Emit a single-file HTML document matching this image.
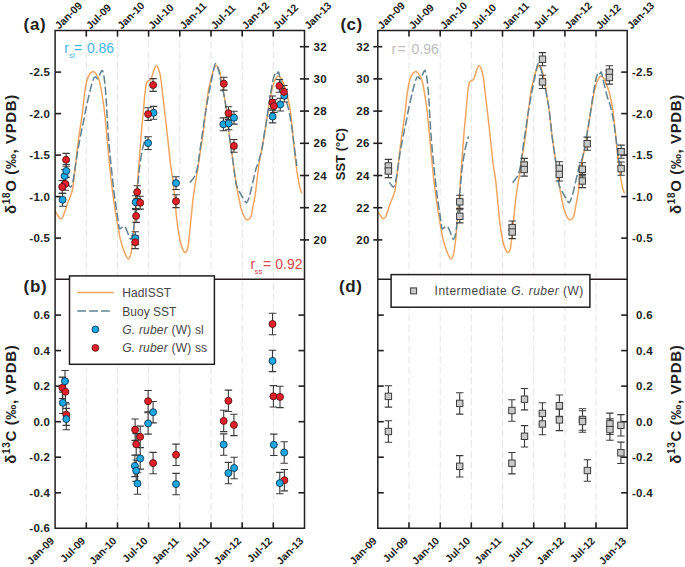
<!DOCTYPE html>
<html><head><meta charset="utf-8"><title>chart</title>
<style>html,body{margin:0;padding:0;background:#fff;width:685px;height:567px;overflow:hidden}svg{display:block}</style>
</head><body>
<svg width="685" height="567" viewBox="0 0 685 567" font-family='"Liberation Sans", sans-serif'>
<rect width="685" height="567" fill="#fff"/>
<line x1="86.3" y1="30.6" x2="86.3" y2="528.3" stroke="#e4e4e4" stroke-width="1" stroke-dasharray="7.5,3"/>
<line x1="117.5" y1="30.6" x2="117.5" y2="528.3" stroke="#e4e4e4" stroke-width="1" stroke-dasharray="7.5,3"/>
<line x1="148.6" y1="30.6" x2="148.6" y2="528.3" stroke="#e4e4e4" stroke-width="1" stroke-dasharray="7.5,3"/>
<line x1="179.8" y1="30.6" x2="179.8" y2="528.3" stroke="#e4e4e4" stroke-width="1" stroke-dasharray="7.5,3"/>
<line x1="211.0" y1="30.6" x2="211.0" y2="528.3" stroke="#e4e4e4" stroke-width="1" stroke-dasharray="7.5,3"/>
<line x1="242.2" y1="30.6" x2="242.2" y2="528.3" stroke="#e4e4e4" stroke-width="1" stroke-dasharray="7.5,3"/>
<line x1="273.3" y1="30.6" x2="273.3" y2="528.3" stroke="#e4e4e4" stroke-width="1" stroke-dasharray="7.5,3"/>
<line x1="409.0" y1="30.6" x2="409.0" y2="528.3" stroke="#e4e4e4" stroke-width="1" stroke-dasharray="7.5,3"/>
<line x1="440.2" y1="30.6" x2="440.2" y2="528.3" stroke="#e4e4e4" stroke-width="1" stroke-dasharray="7.5,3"/>
<line x1="471.3" y1="30.6" x2="471.3" y2="528.3" stroke="#e4e4e4" stroke-width="1" stroke-dasharray="7.5,3"/>
<line x1="502.5" y1="30.6" x2="502.5" y2="528.3" stroke="#e4e4e4" stroke-width="1" stroke-dasharray="7.5,3"/>
<line x1="533.7" y1="30.6" x2="533.7" y2="528.3" stroke="#e4e4e4" stroke-width="1" stroke-dasharray="7.5,3"/>
<line x1="564.9" y1="30.6" x2="564.9" y2="528.3" stroke="#e4e4e4" stroke-width="1" stroke-dasharray="7.5,3"/>
<line x1="596.0" y1="30.6" x2="596.0" y2="528.3" stroke="#e4e4e4" stroke-width="1" stroke-dasharray="7.5,3"/>
<path d="M55.3,211.5 C55.6,212.1 56.6,213.8 57.3,214.8 C58.0,215.9 58.7,217.1 59.3,217.8 C59.9,218.5 60.3,218.9 60.9,218.8 C61.5,218.7 62.2,218.1 62.8,217.0 C63.4,215.9 63.7,214.7 64.5,212.5 C65.3,210.3 66.5,206.3 67.5,203.6 C68.5,200.9 69.6,198.7 70.4,196.3 C71.2,194.0 71.9,192.6 72.5,189.5 C73.1,186.4 73.5,182.7 74.1,177.5 C74.7,172.3 75.6,164.7 76.3,158.3 C77.0,151.9 77.8,144.9 78.5,139.3 C79.2,133.7 80.0,129.8 80.7,124.6 C81.4,119.4 82.3,113.3 82.9,108.0 C83.6,102.7 83.9,97.6 84.6,93.0 C85.3,88.4 86.0,83.7 86.9,80.5 C87.8,77.3 88.8,75.5 89.8,74.0 C90.8,72.5 92.0,71.6 92.9,71.4 C93.8,71.2 94.4,72.2 95.1,72.8 C95.8,73.4 96.3,74.3 96.9,75.3 C97.5,76.2 98.0,77.0 98.6,78.5 C99.2,80.0 99.7,81.6 100.3,84.5 C100.9,87.4 101.6,91.8 102.3,96.0 C103.0,100.2 103.6,104.3 104.3,110.0 C105.0,115.7 105.6,122.7 106.3,130.0 C107.0,137.3 107.8,146.2 108.5,153.9 C109.2,161.6 110.0,169.3 110.7,176.0 C111.4,182.7 112.2,188.6 112.9,194.2 C113.6,199.8 114.3,204.2 115.1,209.3 C115.9,214.4 116.8,219.6 117.6,224.5 C118.5,229.4 119.2,234.5 120.2,238.6 C121.1,242.7 122.4,246.2 123.3,249.0 C124.3,251.8 125.1,253.8 125.9,255.5 C126.7,257.2 127.6,258.9 128.3,259.0 C129.0,259.1 129.7,257.8 130.3,256.0 C130.9,254.2 131.4,251.0 131.9,248.0 C132.4,245.0 132.7,241.6 133.1,237.8 C133.5,234.0 133.8,229.6 134.2,225.2 C134.6,220.8 135.0,216.2 135.4,211.5 C135.8,206.8 136.2,202.2 136.6,197.0 C137.0,191.8 137.4,186.0 137.8,180.0 C138.2,174.0 138.6,169.2 139.2,161.2 C139.8,153.2 140.7,140.2 141.4,132.0 C142.1,123.8 142.7,118.7 143.3,112.0 C143.9,105.3 144.6,96.8 145.1,92.0 C145.7,87.2 146.1,84.8 146.6,83.0 C147.1,81.2 147.7,81.5 148.3,81.0 C148.9,80.5 149.5,80.6 150.1,80.0 C150.7,79.4 151.1,79.2 151.7,77.5 C152.3,75.8 153.1,72.0 153.9,70.1 C154.7,68.1 155.6,65.8 156.4,65.8 C157.2,65.8 158.1,67.7 158.8,69.8 C159.5,71.9 160.2,74.6 160.8,78.5 C161.4,82.4 161.9,88.1 162.5,93.0 C163.1,97.9 163.7,102.8 164.3,108.0 C164.9,113.2 165.5,118.8 166.1,124.0 C166.7,129.2 167.0,132.4 167.8,139.3 C168.6,146.2 169.8,158.8 170.7,165.6 C171.5,172.4 172.2,173.9 172.9,180.0 C173.6,186.1 174.4,194.7 175.1,202.0 C175.8,209.3 176.4,217.3 177.3,223.9 C178.2,230.5 179.3,237.1 180.3,241.5 C181.3,245.9 182.3,248.5 183.2,250.3 C184.0,252.1 184.7,252.8 185.4,252.5 C186.1,252.2 187.0,251.1 187.6,248.8 C188.2,246.5 188.5,242.8 189.0,238.6 C189.5,234.4 189.9,230.0 190.5,223.9 C191.1,217.8 192.1,207.7 192.7,202.0 C193.3,196.3 193.6,194.8 194.3,190.0 C195.0,185.2 196.1,179.0 197.1,173.0 C198.0,167.0 199.0,160.7 200.0,153.9 C201.0,147.1 202.3,139.3 203.3,132.0 C204.3,124.7 204.9,117.0 205.8,110.0 C206.7,103.0 207.7,94.8 208.5,90.0 C209.3,85.2 209.9,84.0 210.6,81.0 C211.3,78.0 212.1,74.6 212.9,72.0 C213.8,69.4 214.8,66.3 215.7,65.6 C216.6,64.8 217.4,66.3 218.1,67.5 C218.8,68.7 219.3,70.4 219.9,72.5 C220.5,74.6 220.9,76.5 221.6,80.0 C222.2,83.5 223.0,88.8 223.8,93.6 C224.6,98.4 225.3,101.8 226.3,109.0 C227.3,116.2 228.5,129.0 229.5,137.0 C230.5,145.0 231.4,150.2 232.4,157.0 C233.4,163.8 234.5,172.5 235.3,178.0 C236.1,183.5 236.7,186.7 237.3,190.0 C237.9,193.3 238.2,194.8 238.9,198.0 C239.6,201.2 240.3,206.0 241.3,209.3 C242.3,212.7 243.9,216.3 245.0,218.1 C246.1,219.8 246.9,220.1 247.9,219.8 C248.9,219.6 250.1,218.8 250.9,216.6 C251.8,214.4 252.3,210.1 253.0,206.4 C253.7,202.7 254.4,199.8 255.2,194.6 C256.0,189.4 256.8,180.9 257.6,175.0 C258.4,169.1 259.1,163.2 259.8,159.0 C260.5,154.8 261.0,154.0 261.8,149.5 C262.6,145.0 263.8,138.2 264.8,132.0 C265.8,125.8 266.9,117.9 267.9,112.0 C268.9,106.1 269.7,101.2 270.6,96.5 C271.5,91.8 272.5,87.0 273.5,83.8 C274.5,80.6 275.9,78.7 276.7,77.4 C277.5,76.2 277.5,76.3 278.1,76.3 C278.7,76.3 279.6,76.9 280.3,77.6 C281.0,78.3 281.4,78.4 282.3,80.6 C283.2,82.8 284.9,87.0 286.0,90.6 C287.1,94.2 288.1,98.2 288.9,102.3 C289.7,106.4 290.2,110.0 290.8,115.0 C291.4,120.0 291.9,125.5 292.6,132.0 C293.3,138.5 294.1,147.2 294.8,153.9 C295.5,160.6 296.2,166.6 297.0,172.0 C297.8,177.4 298.8,182.9 299.6,186.5 C300.4,190.1 301.4,192.3 301.8,193.5" fill="none" stroke="#f3a55f" stroke-width="1.5" stroke-linejoin="round"/>
<path d="M66.6,182.4 C67.0,182.9 68.1,184.4 68.8,185.2 C69.5,186.0 70.2,187.5 70.9,187.0 C71.6,186.5 72.2,184.5 72.8,182.0 C73.4,179.5 74.0,175.1 74.5,172.0 C75.0,168.9 75.3,167.0 75.8,163.5 C76.3,160.0 76.8,156.2 77.7,151.0 C78.6,145.8 80.2,137.5 81.3,132.0 C82.4,126.5 83.4,122.2 84.2,118.0 C85.0,113.8 85.4,111.1 86.3,107.0 C87.2,102.9 88.5,97.4 89.4,93.6 C90.3,89.8 91.1,86.6 91.8,84.0 C92.6,81.4 93.3,79.2 93.9,78.0 C94.5,76.8 95.0,76.9 95.6,77.0 C96.2,77.1 97.0,79.2 97.7,78.8 C98.4,78.4 99.2,75.9 99.9,74.5 C100.6,73.1 101.5,70.1 102.1,70.3 C102.8,70.5 103.3,72.9 103.8,75.5 C104.3,78.1 104.7,82.2 105.1,86.0 C105.5,89.8 105.8,93.7 106.1,98.0 C106.4,102.3 106.6,106.3 106.9,112.0 C107.2,117.7 107.6,125.0 108.1,132.0 C108.6,139.0 109.2,146.7 109.9,153.9 C110.6,161.1 111.4,168.2 112.1,175.0 C112.8,181.8 113.6,189.3 114.3,194.6 C115.0,199.9 115.6,203.2 116.1,207.0 C116.7,210.8 117.1,213.7 117.6,217.2 C118.1,220.7 118.7,226.4 119.3,228.2 C119.9,230.0 120.6,228.1 121.3,227.8 C122.0,227.5 122.6,226.4 123.3,226.4 C124.0,226.4 124.8,226.7 125.6,227.8 C126.4,228.9 127.1,231.3 127.9,233.2 C128.7,235.1 129.5,238.3 130.2,239.0 C130.9,239.7 131.4,238.5 131.9,237.5 C132.4,236.5 132.7,235.4 133.1,233.2 C133.5,230.9 133.7,228.7 134.2,224.0 C134.7,219.3 135.2,212.3 135.9,205.0 C136.6,197.7 137.8,185.8 138.3,180.0 C138.8,174.2 138.6,174.8 139.2,170.0 C139.8,165.2 141.0,156.6 142.1,151.0 C143.2,145.4 145.2,138.8 145.8,136.4" fill="none" stroke="#618290" stroke-width="1.5" stroke-dasharray="8.5,3"/>
<path d="M189.8,182.6 C190.3,182.0 191.8,180.4 192.8,179.0 C193.8,177.6 194.8,176.6 195.6,174.4 C196.4,172.2 197.2,169.2 197.8,166.0 C198.4,162.8 198.7,159.4 199.3,155.0 C199.9,150.6 200.8,144.5 201.5,139.3 C202.3,134.1 203.1,128.9 203.8,124.0 C204.5,119.1 205.2,114.2 205.9,110.0 C206.6,105.8 207.2,102.3 207.8,99.0 C208.4,95.7 209.0,92.7 209.5,90.0 C210.0,87.3 210.4,85.4 210.9,83.0 C211.4,80.6 212.0,78.1 212.5,75.5 C213.0,72.9 213.6,69.5 214.1,67.5 C214.6,65.5 214.9,63.8 215.4,63.6 C215.9,63.4 216.7,65.0 217.2,66.2 C217.7,67.4 218.2,68.5 218.7,70.5 C219.2,72.5 219.7,75.4 220.2,78.0 C220.7,80.6 221.2,83.4 221.8,86.0 C222.4,88.6 222.9,89.8 223.7,93.6 C224.4,97.4 225.3,101.8 226.3,109.0 C227.3,116.2 228.5,129.0 229.5,137.0 C230.5,145.0 231.5,150.5 232.4,157.0 C233.3,163.5 234.2,171.2 234.9,176.0 C235.6,180.8 235.6,182.4 236.6,185.5 C237.6,188.6 239.8,192.3 241.0,194.6 C242.2,196.8 242.9,197.7 243.8,199.0 C244.7,200.3 245.6,203.2 246.5,202.7 C247.4,202.2 248.6,198.7 249.4,196.1 C250.3,193.5 250.9,190.3 251.6,187.3 C252.3,184.3 253.1,181.1 253.8,178.0 C254.5,174.9 255.2,171.6 255.9,169.0 C256.6,166.4 257.2,165.9 258.2,162.7 C259.2,159.4 260.7,154.6 261.8,149.5 C262.9,144.4 263.7,137.2 264.6,132.0 C265.5,126.8 266.0,124.4 267.0,118.0 C268.0,111.6 269.6,99.8 270.6,93.6 C271.6,87.4 272.1,84.1 272.8,81.0 C273.5,77.9 274.0,76.5 274.5,75.0 C275.0,73.5 275.2,72.5 275.7,72.3 C276.1,72.1 276.7,73.8 277.2,73.8 C277.7,73.8 278.1,70.9 278.7,72.3 C279.3,73.7 279.9,77.9 280.9,81.9 C281.9,85.9 283.4,92.6 284.5,96.5 C285.6,100.4 286.6,102.0 287.5,105.3 C288.4,108.5 289.2,112.2 289.9,116.0 C290.6,119.8 291.3,123.5 291.9,128.0 C292.6,132.5 293.2,138.0 293.8,143.0 C294.4,148.0 295.3,154.2 295.8,158.0 C296.3,161.8 296.7,164.7 296.9,166.0" fill="none" stroke="#618290" stroke-width="1.5" stroke-dasharray="8.5,3"/>
<path d="M378.0,211.5 C378.3,212.1 379.3,213.8 380.0,214.8 C380.7,215.9 381.4,217.1 382.0,217.8 C382.6,218.5 383.0,218.9 383.6,218.8 C384.2,218.7 384.9,218.1 385.5,217.0 C386.1,215.9 386.4,214.7 387.2,212.5 C388.0,210.3 389.2,206.3 390.2,203.6 C391.2,200.9 392.3,198.7 393.1,196.3 C393.9,194.0 394.6,192.6 395.2,189.5 C395.8,186.4 396.2,182.7 396.8,177.5 C397.4,172.3 398.3,164.7 399.0,158.3 C399.7,151.9 400.5,144.9 401.2,139.3 C401.9,133.7 402.7,129.8 403.4,124.6 C404.1,119.4 405.0,113.3 405.6,108.0 C406.2,102.7 406.6,97.6 407.3,93.0 C408.0,88.4 408.7,83.7 409.6,80.5 C410.5,77.3 411.5,75.5 412.5,74.0 C413.5,72.5 414.7,71.6 415.6,71.4 C416.5,71.2 417.1,72.2 417.8,72.8 C418.5,73.4 419.0,74.3 419.6,75.3 C420.2,76.2 420.7,77.0 421.3,78.5 C421.9,80.0 422.4,81.6 423.0,84.5 C423.6,87.4 424.3,91.8 425.0,96.0 C425.7,100.2 426.3,104.3 427.0,110.0 C427.7,115.7 428.3,122.7 429.0,130.0 C429.7,137.3 430.5,146.2 431.2,153.9 C431.9,161.6 432.7,169.3 433.4,176.0 C434.1,182.7 434.9,188.6 435.6,194.2 C436.3,199.8 437.0,204.2 437.8,209.3 C438.6,214.4 439.5,219.6 440.3,224.5 C441.1,229.4 441.9,234.5 442.9,238.6 C443.8,242.7 445.1,246.2 446.0,249.0 C446.9,251.8 447.8,253.8 448.6,255.5 C449.4,257.2 450.3,258.9 451.0,259.0 C451.7,259.1 452.4,257.8 453.0,256.0 C453.6,254.2 454.1,251.0 454.6,248.0 C455.1,245.0 455.4,241.6 455.8,237.8 C456.2,234.0 456.5,229.6 456.9,225.2 C457.3,220.8 457.7,216.2 458.1,211.5 C458.5,206.8 458.9,202.2 459.3,197.0 C459.7,191.8 460.1,186.0 460.5,180.0 C460.9,174.0 461.3,169.2 461.9,161.2 C462.5,153.2 463.4,140.2 464.1,132.0 C464.8,123.8 465.4,118.7 466.0,112.0 C466.6,105.3 467.2,96.8 467.8,92.0 C468.4,87.2 468.8,84.8 469.3,83.0 C469.8,81.2 470.4,81.5 471.0,81.0 C471.6,80.5 472.2,80.6 472.8,80.0 C473.4,79.4 473.8,79.2 474.4,77.5 C475.0,75.8 475.8,72.0 476.6,70.1 C477.4,68.1 478.3,65.8 479.1,65.8 C479.9,65.8 480.8,67.7 481.5,69.8 C482.2,71.9 482.9,74.6 483.5,78.5 C484.1,82.4 484.6,88.1 485.2,93.0 C485.8,97.9 486.4,102.8 487.0,108.0 C487.6,113.2 488.2,118.8 488.8,124.0 C489.4,129.2 489.7,132.4 490.5,139.3 C491.3,146.2 492.5,158.8 493.4,165.6 C494.2,172.4 494.9,173.9 495.6,180.0 C496.3,186.1 497.1,194.7 497.8,202.0 C498.5,209.3 499.1,217.3 500.0,223.9 C500.9,230.5 502.0,237.1 503.0,241.5 C504.0,245.9 505.0,248.5 505.9,250.3 C506.8,252.1 507.4,252.8 508.1,252.5 C508.8,252.2 509.7,251.1 510.3,248.8 C510.9,246.5 511.2,242.8 511.7,238.6 C512.2,234.4 512.6,230.0 513.2,223.9 C513.8,217.8 514.8,207.7 515.4,202.0 C516.0,196.3 516.3,194.8 517.0,190.0 C517.7,185.2 518.8,179.0 519.8,173.0 C520.8,167.0 521.7,160.7 522.7,153.9 C523.7,147.1 525.0,139.3 526.0,132.0 C527.0,124.7 527.6,117.0 528.5,110.0 C529.4,103.0 530.4,94.8 531.2,90.0 C532.0,85.2 532.6,84.0 533.3,81.0 C534.0,78.0 534.8,74.6 535.6,72.0 C536.5,69.4 537.5,66.3 538.4,65.6 C539.3,64.8 540.1,66.3 540.8,67.5 C541.5,68.7 542.0,70.4 542.6,72.5 C543.2,74.6 543.6,76.5 544.3,80.0 C544.9,83.5 545.7,88.8 546.5,93.6 C547.3,98.4 548.0,101.8 549.0,109.0 C550.0,116.2 551.2,129.0 552.2,137.0 C553.2,145.0 554.1,150.2 555.1,157.0 C556.1,163.8 557.2,172.5 558.0,178.0 C558.8,183.5 559.4,186.7 560.0,190.0 C560.6,193.3 560.9,194.8 561.6,198.0 C562.3,201.2 563.0,206.0 564.0,209.3 C565.0,212.7 566.6,216.3 567.7,218.1 C568.8,219.8 569.6,220.1 570.6,219.8 C571.6,219.6 572.8,218.8 573.6,216.6 C574.5,214.4 575.0,210.1 575.7,206.4 C576.4,202.7 577.1,199.8 577.9,194.6 C578.7,189.4 579.5,180.9 580.3,175.0 C581.1,169.1 581.8,163.2 582.5,159.0 C583.2,154.8 583.7,154.0 584.5,149.5 C585.3,145.0 586.5,138.2 587.5,132.0 C588.5,125.8 589.6,117.9 590.6,112.0 C591.6,106.1 592.4,101.2 593.3,96.5 C594.2,91.8 595.2,87.0 596.2,83.8 C597.2,80.6 598.6,78.7 599.4,77.4 C600.2,76.2 600.2,76.3 600.8,76.3 C601.4,76.3 602.3,76.9 603.0,77.6 C603.7,78.3 604.0,78.4 605.0,80.6 C606.0,82.8 607.6,87.0 608.7,90.6 C609.8,94.2 610.8,98.2 611.6,102.3 C612.4,106.4 612.9,110.0 613.5,115.0 C614.1,120.0 614.6,125.5 615.3,132.0 C616.0,138.5 616.8,147.2 617.5,153.9 C618.2,160.6 618.9,166.6 619.7,172.0 C620.5,177.4 621.5,182.9 622.3,186.5 C623.1,190.1 624.1,192.3 624.5,193.5" fill="none" stroke="#f3a55f" stroke-width="1.5" stroke-linejoin="round"/>
<path d="M389.3,182.4 C389.7,182.9 390.8,184.4 391.5,185.2 C392.2,186.0 392.9,187.5 393.6,187.0 C394.3,186.5 394.9,184.5 395.5,182.0 C396.1,179.5 396.7,175.1 397.2,172.0 C397.7,168.9 398.0,167.0 398.5,163.5 C399.0,160.0 399.5,156.2 400.4,151.0 C401.3,145.8 402.9,137.5 404.0,132.0 C405.1,126.5 406.1,122.2 406.9,118.0 C407.7,113.8 408.1,111.1 409.0,107.0 C409.9,102.9 411.2,97.4 412.1,93.6 C413.0,89.8 413.8,86.6 414.5,84.0 C415.2,81.4 416.0,79.2 416.6,78.0 C417.2,76.8 417.7,76.9 418.3,77.0 C418.9,77.1 419.7,79.2 420.4,78.8 C421.1,78.4 421.9,75.9 422.6,74.5 C423.3,73.1 424.2,70.1 424.8,70.3 C425.4,70.5 426.0,72.9 426.5,75.5 C427.0,78.1 427.4,82.2 427.8,86.0 C428.2,89.8 428.5,93.7 428.8,98.0 C429.1,102.3 429.3,106.3 429.6,112.0 C429.9,117.7 430.3,125.0 430.8,132.0 C431.3,139.0 431.9,146.7 432.6,153.9 C433.3,161.1 434.1,168.2 434.8,175.0 C435.5,181.8 436.3,189.3 437.0,194.6 C437.7,199.9 438.2,203.2 438.8,207.0 C439.4,210.8 439.8,213.7 440.3,217.2 C440.8,220.7 441.4,226.4 442.0,228.2 C442.6,230.0 443.3,228.1 444.0,227.8 C444.7,227.5 445.3,226.4 446.0,226.4 C446.7,226.4 447.5,226.7 448.3,227.8 C449.1,228.9 449.8,231.3 450.6,233.2 C451.4,235.1 452.2,238.3 452.9,239.0 C453.6,239.7 454.1,238.5 454.6,237.5 C455.1,236.5 455.4,235.4 455.8,233.2 C456.2,230.9 456.4,228.7 456.9,224.0 C457.4,219.3 457.9,212.3 458.6,205.0 C459.3,197.7 460.4,185.8 461.0,180.0 C461.6,174.2 461.3,174.8 461.9,170.0 C462.5,165.2 463.7,156.6 464.8,151.0 C465.9,145.4 467.9,138.8 468.5,136.4" fill="none" stroke="#618290" stroke-width="1.5" stroke-dasharray="8.5,3"/>
<path d="M512.5,182.6 C513.0,182.0 514.5,180.4 515.5,179.0 C516.5,177.6 517.5,176.6 518.3,174.4 C519.1,172.2 519.9,169.2 520.5,166.0 C521.1,162.8 521.4,159.4 522.0,155.0 C522.6,150.6 523.5,144.5 524.2,139.3 C525.0,134.1 525.8,128.9 526.5,124.0 C527.2,119.1 527.9,114.2 528.6,110.0 C529.3,105.8 529.9,102.3 530.5,99.0 C531.1,95.7 531.7,92.7 532.2,90.0 C532.7,87.3 533.1,85.4 533.6,83.0 C534.1,80.6 534.7,78.1 535.2,75.5 C535.7,72.9 536.3,69.5 536.8,67.5 C537.3,65.5 537.6,63.8 538.1,63.6 C538.6,63.4 539.4,65.0 539.9,66.2 C540.4,67.4 540.9,68.5 541.4,70.5 C541.9,72.5 542.4,75.4 542.9,78.0 C543.4,80.6 543.9,83.4 544.5,86.0 C545.1,88.6 545.6,89.8 546.4,93.6 C547.1,97.4 548.0,101.8 549.0,109.0 C550.0,116.2 551.2,129.0 552.2,137.0 C553.2,145.0 554.2,150.5 555.1,157.0 C556.0,163.5 556.9,171.2 557.6,176.0 C558.3,180.8 558.3,182.4 559.3,185.5 C560.3,188.6 562.5,192.3 563.7,194.6 C564.9,196.8 565.6,197.7 566.5,199.0 C567.4,200.3 568.3,203.2 569.2,202.7 C570.1,202.2 571.2,198.7 572.1,196.1 C573.0,193.5 573.6,190.3 574.3,187.3 C575.0,184.3 575.8,181.1 576.5,178.0 C577.2,174.9 577.9,171.6 578.6,169.0 C579.3,166.4 579.9,165.9 580.9,162.7 C581.9,159.4 583.4,154.6 584.5,149.5 C585.6,144.4 586.4,137.2 587.3,132.0 C588.2,126.8 588.7,124.4 589.7,118.0 C590.7,111.6 592.3,99.8 593.3,93.6 C594.3,87.4 594.9,84.1 595.5,81.0 C596.1,77.9 596.7,76.5 597.2,75.0 C597.7,73.5 598.0,72.5 598.4,72.3 C598.8,72.1 599.4,73.8 599.9,73.8 C600.4,73.8 600.8,70.9 601.4,72.3 C602.0,73.7 602.6,77.9 603.6,81.9 C604.6,85.9 606.1,92.6 607.2,96.5 C608.3,100.4 609.3,102.0 610.2,105.3 C611.1,108.5 611.9,112.2 612.6,116.0 C613.3,119.8 614.0,123.5 614.6,128.0 C615.2,132.5 615.9,138.0 616.5,143.0 C617.1,148.0 618.0,154.2 618.5,158.0 C619.0,161.8 619.4,164.7 619.6,166.0" fill="none" stroke="#618290" stroke-width="1.5" stroke-dasharray="8.5,3"/>
<path d="M55.1,30.6H304.5V528.3H55.1Z" fill="none" stroke="#231f20" stroke-width="1.5"/>
<line x1="55.1" y1="279.3" x2="304.5" y2="279.3" stroke="#231f20" stroke-width="1.5"/>
<line x1="86.3" y1="30.6" x2="86.3" y2="36.6" stroke="#231f20" stroke-width="1.6"/>
<line x1="86.3" y1="528.3" x2="86.3" y2="522.3" stroke="#231f20" stroke-width="1.6"/>
<line x1="117.5" y1="30.6" x2="117.5" y2="36.6" stroke="#231f20" stroke-width="1.6"/>
<line x1="117.5" y1="528.3" x2="117.5" y2="522.3" stroke="#231f20" stroke-width="1.6"/>
<line x1="148.6" y1="30.6" x2="148.6" y2="36.6" stroke="#231f20" stroke-width="1.6"/>
<line x1="148.6" y1="528.3" x2="148.6" y2="522.3" stroke="#231f20" stroke-width="1.6"/>
<line x1="179.8" y1="30.6" x2="179.8" y2="36.6" stroke="#231f20" stroke-width="1.6"/>
<line x1="179.8" y1="528.3" x2="179.8" y2="522.3" stroke="#231f20" stroke-width="1.6"/>
<line x1="211.0" y1="30.6" x2="211.0" y2="36.6" stroke="#231f20" stroke-width="1.6"/>
<line x1="211.0" y1="528.3" x2="211.0" y2="522.3" stroke="#231f20" stroke-width="1.6"/>
<line x1="242.2" y1="30.6" x2="242.2" y2="36.6" stroke="#231f20" stroke-width="1.6"/>
<line x1="242.2" y1="528.3" x2="242.2" y2="522.3" stroke="#231f20" stroke-width="1.6"/>
<line x1="273.3" y1="30.6" x2="273.3" y2="36.6" stroke="#231f20" stroke-width="1.6"/>
<line x1="273.3" y1="528.3" x2="273.3" y2="522.3" stroke="#231f20" stroke-width="1.6"/>
<path d="M377.8,30.6H627.2V528.3H377.8Z" fill="none" stroke="#231f20" stroke-width="1.5"/>
<line x1="377.8" y1="279.3" x2="627.2" y2="279.3" stroke="#231f20" stroke-width="1.5"/>
<line x1="409.0" y1="30.6" x2="409.0" y2="36.6" stroke="#231f20" stroke-width="1.6"/>
<line x1="409.0" y1="528.3" x2="409.0" y2="522.3" stroke="#231f20" stroke-width="1.6"/>
<line x1="440.2" y1="30.6" x2="440.2" y2="36.6" stroke="#231f20" stroke-width="1.6"/>
<line x1="440.2" y1="528.3" x2="440.2" y2="522.3" stroke="#231f20" stroke-width="1.6"/>
<line x1="471.3" y1="30.6" x2="471.3" y2="36.6" stroke="#231f20" stroke-width="1.6"/>
<line x1="471.3" y1="528.3" x2="471.3" y2="522.3" stroke="#231f20" stroke-width="1.6"/>
<line x1="502.5" y1="30.6" x2="502.5" y2="36.6" stroke="#231f20" stroke-width="1.6"/>
<line x1="502.5" y1="528.3" x2="502.5" y2="522.3" stroke="#231f20" stroke-width="1.6"/>
<line x1="533.7" y1="30.6" x2="533.7" y2="36.6" stroke="#231f20" stroke-width="1.6"/>
<line x1="533.7" y1="528.3" x2="533.7" y2="522.3" stroke="#231f20" stroke-width="1.6"/>
<line x1="564.9" y1="30.6" x2="564.9" y2="36.6" stroke="#231f20" stroke-width="1.6"/>
<line x1="564.9" y1="528.3" x2="564.9" y2="522.3" stroke="#231f20" stroke-width="1.6"/>
<line x1="596.0" y1="30.6" x2="596.0" y2="36.6" stroke="#231f20" stroke-width="1.6"/>
<line x1="596.0" y1="528.3" x2="596.0" y2="522.3" stroke="#231f20" stroke-width="1.6"/>
<text x="0.0" y="0.0" font-size="10.5" font-weight="bold" text-anchor="start" fill="#231f20" transform="translate(59.3,29.8) rotate(-45)">Jan-09</text>
<text x="0.0" y="0.0" font-size="10.5" font-weight="bold" text-anchor="end" fill="#231f20" transform="translate(54.8,541.6) rotate(-45)">Jan-09</text>
<text x="0.0" y="0.0" font-size="10.5" font-weight="bold" text-anchor="start" fill="#231f20" transform="translate(90.5,29.8) rotate(-45)">Jul-09</text>
<text x="0.0" y="0.0" font-size="10.5" font-weight="bold" text-anchor="end" fill="#231f20" transform="translate(86.0,541.6) rotate(-45)">Jul-09</text>
<text x="0.0" y="0.0" font-size="10.5" font-weight="bold" text-anchor="start" fill="#231f20" transform="translate(121.7,29.8) rotate(-45)">Jan-10</text>
<text x="0.0" y="0.0" font-size="10.5" font-weight="bold" text-anchor="end" fill="#231f20" transform="translate(117.2,541.6) rotate(-45)">Jan-10</text>
<text x="0.0" y="0.0" font-size="10.5" font-weight="bold" text-anchor="start" fill="#231f20" transform="translate(152.8,29.8) rotate(-45)">Jul-10</text>
<text x="0.0" y="0.0" font-size="10.5" font-weight="bold" text-anchor="end" fill="#231f20" transform="translate(148.3,541.6) rotate(-45)">Jul-10</text>
<text x="0.0" y="0.0" font-size="10.5" font-weight="bold" text-anchor="start" fill="#231f20" transform="translate(184.0,29.8) rotate(-45)">Jan-11</text>
<text x="0.0" y="0.0" font-size="10.5" font-weight="bold" text-anchor="end" fill="#231f20" transform="translate(179.5,541.6) rotate(-45)">Jan-11</text>
<text x="0.0" y="0.0" font-size="10.5" font-weight="bold" text-anchor="start" fill="#231f20" transform="translate(215.2,29.8) rotate(-45)">Jul-11</text>
<text x="0.0" y="0.0" font-size="10.5" font-weight="bold" text-anchor="end" fill="#231f20" transform="translate(210.7,541.6) rotate(-45)">Jul-11</text>
<text x="0.0" y="0.0" font-size="10.5" font-weight="bold" text-anchor="start" fill="#231f20" transform="translate(246.3,29.8) rotate(-45)">Jan-12</text>
<text x="0.0" y="0.0" font-size="10.5" font-weight="bold" text-anchor="end" fill="#231f20" transform="translate(241.8,541.6) rotate(-45)">Jan-12</text>
<text x="0.0" y="0.0" font-size="10.5" font-weight="bold" text-anchor="start" fill="#231f20" transform="translate(277.5,29.8) rotate(-45)">Jul-12</text>
<text x="0.0" y="0.0" font-size="10.5" font-weight="bold" text-anchor="end" fill="#231f20" transform="translate(273.0,541.6) rotate(-45)">Jul-12</text>
<text x="0.0" y="0.0" font-size="10.5" font-weight="bold" text-anchor="start" fill="#231f20" transform="translate(308.7,29.8) rotate(-45)">Jan-13</text>
<text x="0.0" y="0.0" font-size="10.5" font-weight="bold" text-anchor="end" fill="#231f20" transform="translate(304.2,541.6) rotate(-45)">Jan-13</text>
<text x="0.0" y="0.0" font-size="10.5" font-weight="bold" text-anchor="start" fill="#231f20" transform="translate(382.0,29.8) rotate(-45)">Jan-09</text>
<text x="0.0" y="0.0" font-size="10.5" font-weight="bold" text-anchor="end" fill="#231f20" transform="translate(377.5,541.6) rotate(-45)">Jan-09</text>
<text x="0.0" y="0.0" font-size="10.5" font-weight="bold" text-anchor="start" fill="#231f20" transform="translate(413.2,29.8) rotate(-45)">Jul-09</text>
<text x="0.0" y="0.0" font-size="10.5" font-weight="bold" text-anchor="end" fill="#231f20" transform="translate(408.7,541.6) rotate(-45)">Jul-09</text>
<text x="0.0" y="0.0" font-size="10.5" font-weight="bold" text-anchor="start" fill="#231f20" transform="translate(444.4,29.8) rotate(-45)">Jan-10</text>
<text x="0.0" y="0.0" font-size="10.5" font-weight="bold" text-anchor="end" fill="#231f20" transform="translate(439.9,541.6) rotate(-45)">Jan-10</text>
<text x="0.0" y="0.0" font-size="10.5" font-weight="bold" text-anchor="start" fill="#231f20" transform="translate(475.5,29.8) rotate(-45)">Jul-10</text>
<text x="0.0" y="0.0" font-size="10.5" font-weight="bold" text-anchor="end" fill="#231f20" transform="translate(471.0,541.6) rotate(-45)">Jul-10</text>
<text x="0.0" y="0.0" font-size="10.5" font-weight="bold" text-anchor="start" fill="#231f20" transform="translate(506.7,29.8) rotate(-45)">Jan-11</text>
<text x="0.0" y="0.0" font-size="10.5" font-weight="bold" text-anchor="end" fill="#231f20" transform="translate(502.2,541.6) rotate(-45)">Jan-11</text>
<text x="0.0" y="0.0" font-size="10.5" font-weight="bold" text-anchor="start" fill="#231f20" transform="translate(537.9,29.8) rotate(-45)">Jul-11</text>
<text x="0.0" y="0.0" font-size="10.5" font-weight="bold" text-anchor="end" fill="#231f20" transform="translate(533.4,541.6) rotate(-45)">Jul-11</text>
<text x="0.0" y="0.0" font-size="10.5" font-weight="bold" text-anchor="start" fill="#231f20" transform="translate(569.1,29.8) rotate(-45)">Jan-12</text>
<text x="0.0" y="0.0" font-size="10.5" font-weight="bold" text-anchor="end" fill="#231f20" transform="translate(564.6,541.6) rotate(-45)">Jan-12</text>
<text x="0.0" y="0.0" font-size="10.5" font-weight="bold" text-anchor="start" fill="#231f20" transform="translate(600.2,29.8) rotate(-45)">Jul-12</text>
<text x="0.0" y="0.0" font-size="10.5" font-weight="bold" text-anchor="end" fill="#231f20" transform="translate(595.7,541.6) rotate(-45)">Jul-12</text>
<text x="0.0" y="0.0" font-size="10.5" font-weight="bold" text-anchor="start" fill="#231f20" transform="translate(631.4,29.8) rotate(-45)">Jan-13</text>
<text x="0.0" y="0.0" font-size="10.5" font-weight="bold" text-anchor="end" fill="#231f20" transform="translate(626.9,541.6) rotate(-45)">Jan-13</text>
<line x1="55.1" y1="72.1" x2="61.1" y2="72.1" stroke="#231f20" stroke-width="1.6"/>
<text x="50.3" y="76.1" font-size="11.5" font-weight="bold" text-anchor="end" fill="#231f20" letter-spacing="0.3">-2.5</text>
<line x1="621.2" y1="72.1" x2="627.2" y2="72.1" stroke="#231f20" stroke-width="1.6"/>
<text x="653.0" y="76.1" font-size="11.5" font-weight="bold" text-anchor="end" fill="#231f20" letter-spacing="0.3">-2.5</text>
<line x1="55.1" y1="113.6" x2="61.1" y2="113.6" stroke="#231f20" stroke-width="1.6"/>
<text x="50.3" y="117.6" font-size="11.5" font-weight="bold" text-anchor="end" fill="#231f20" letter-spacing="0.3">-2.0</text>
<line x1="621.2" y1="113.6" x2="627.2" y2="113.6" stroke="#231f20" stroke-width="1.6"/>
<text x="653.0" y="117.6" font-size="11.5" font-weight="bold" text-anchor="end" fill="#231f20" letter-spacing="0.3">-2.0</text>
<line x1="55.1" y1="155.1" x2="61.1" y2="155.1" stroke="#231f20" stroke-width="1.6"/>
<text x="50.3" y="159.1" font-size="11.5" font-weight="bold" text-anchor="end" fill="#231f20" letter-spacing="0.3">-1.5</text>
<line x1="621.2" y1="155.1" x2="627.2" y2="155.1" stroke="#231f20" stroke-width="1.6"/>
<text x="653.0" y="159.1" font-size="11.5" font-weight="bold" text-anchor="end" fill="#231f20" letter-spacing="0.3">-1.5</text>
<line x1="55.1" y1="196.6" x2="61.1" y2="196.6" stroke="#231f20" stroke-width="1.6"/>
<text x="50.3" y="200.6" font-size="11.5" font-weight="bold" text-anchor="end" fill="#231f20" letter-spacing="0.3">-1.0</text>
<line x1="621.2" y1="196.6" x2="627.2" y2="196.6" stroke="#231f20" stroke-width="1.6"/>
<text x="653.0" y="200.6" font-size="11.5" font-weight="bold" text-anchor="end" fill="#231f20" letter-spacing="0.3">-1.0</text>
<line x1="55.1" y1="238.1" x2="61.1" y2="238.1" stroke="#231f20" stroke-width="1.6"/>
<text x="50.3" y="242.1" font-size="11.5" font-weight="bold" text-anchor="end" fill="#231f20" letter-spacing="0.3">-0.5</text>
<line x1="621.2" y1="238.1" x2="627.2" y2="238.1" stroke="#231f20" stroke-width="1.6"/>
<text x="653.0" y="242.1" font-size="11.5" font-weight="bold" text-anchor="end" fill="#231f20" letter-spacing="0.3">-0.5</text>
<line x1="300.0" y1="239.9" x2="309.0" y2="239.9" stroke="#231f20" stroke-width="1.6"/>
<text x="313.5" y="243.9" font-size="11.5" font-weight="bold" text-anchor="start" fill="#231f20" letter-spacing="0.3">20</text>
<line x1="373.3" y1="239.9" x2="382.3" y2="239.9" stroke="#231f20" stroke-width="1.6"/>
<text x="369.6" y="243.9" font-size="11.5" font-weight="bold" text-anchor="end" fill="#231f20" letter-spacing="0.3">20</text>
<line x1="300.0" y1="207.7" x2="309.0" y2="207.7" stroke="#231f20" stroke-width="1.6"/>
<text x="313.5" y="211.7" font-size="11.5" font-weight="bold" text-anchor="start" fill="#231f20" letter-spacing="0.3">22</text>
<line x1="373.3" y1="207.7" x2="382.3" y2="207.7" stroke="#231f20" stroke-width="1.6"/>
<text x="369.6" y="211.7" font-size="11.5" font-weight="bold" text-anchor="end" fill="#231f20" letter-spacing="0.3">22</text>
<line x1="300.0" y1="175.5" x2="309.0" y2="175.5" stroke="#231f20" stroke-width="1.6"/>
<text x="313.5" y="179.5" font-size="11.5" font-weight="bold" text-anchor="start" fill="#231f20" letter-spacing="0.3">24</text>
<line x1="373.3" y1="175.5" x2="382.3" y2="175.5" stroke="#231f20" stroke-width="1.6"/>
<text x="369.6" y="179.5" font-size="11.5" font-weight="bold" text-anchor="end" fill="#231f20" letter-spacing="0.3">24</text>
<line x1="300.0" y1="143.3" x2="309.0" y2="143.3" stroke="#231f20" stroke-width="1.6"/>
<text x="313.5" y="147.3" font-size="11.5" font-weight="bold" text-anchor="start" fill="#231f20" letter-spacing="0.3">26</text>
<line x1="373.3" y1="143.3" x2="382.3" y2="143.3" stroke="#231f20" stroke-width="1.6"/>
<text x="369.6" y="147.3" font-size="11.5" font-weight="bold" text-anchor="end" fill="#231f20" letter-spacing="0.3">26</text>
<line x1="300.0" y1="111.1" x2="309.0" y2="111.1" stroke="#231f20" stroke-width="1.6"/>
<text x="313.5" y="115.1" font-size="11.5" font-weight="bold" text-anchor="start" fill="#231f20" letter-spacing="0.3">28</text>
<line x1="373.3" y1="111.1" x2="382.3" y2="111.1" stroke="#231f20" stroke-width="1.6"/>
<text x="369.6" y="115.1" font-size="11.5" font-weight="bold" text-anchor="end" fill="#231f20" letter-spacing="0.3">28</text>
<line x1="300.0" y1="78.9" x2="309.0" y2="78.9" stroke="#231f20" stroke-width="1.6"/>
<text x="313.5" y="82.9" font-size="11.5" font-weight="bold" text-anchor="start" fill="#231f20" letter-spacing="0.3">30</text>
<line x1="373.3" y1="78.9" x2="382.3" y2="78.9" stroke="#231f20" stroke-width="1.6"/>
<text x="369.6" y="82.9" font-size="11.5" font-weight="bold" text-anchor="end" fill="#231f20" letter-spacing="0.3">30</text>
<line x1="300.0" y1="46.7" x2="309.0" y2="46.7" stroke="#231f20" stroke-width="1.6"/>
<text x="313.5" y="50.7" font-size="11.5" font-weight="bold" text-anchor="start" fill="#231f20" letter-spacing="0.3">32</text>
<line x1="373.3" y1="46.7" x2="382.3" y2="46.7" stroke="#231f20" stroke-width="1.6"/>
<text x="369.6" y="50.7" font-size="11.5" font-weight="bold" text-anchor="end" fill="#231f20" letter-spacing="0.3">32</text>
<text x="50.3" y="319.1" font-size="11.5" font-weight="bold" text-anchor="end" fill="#231f20" letter-spacing="0.3">0.6</text>
<line x1="55.1" y1="315.1" x2="61.1" y2="315.1" stroke="#231f20" stroke-width="1.6"/>
<line x1="298.5" y1="315.1" x2="304.5" y2="315.1" stroke="#231f20" stroke-width="1.6"/>
<line x1="377.8" y1="315.1" x2="383.8" y2="315.1" stroke="#231f20" stroke-width="1.6"/>
<line x1="621.2" y1="315.1" x2="627.2" y2="315.1" stroke="#231f20" stroke-width="1.6"/>
<text x="653.0" y="319.1" font-size="11.5" font-weight="bold" text-anchor="end" fill="#231f20" letter-spacing="0.3">0.6</text>
<text x="50.3" y="354.6" font-size="11.5" font-weight="bold" text-anchor="end" fill="#231f20" letter-spacing="0.3">0.4</text>
<line x1="55.1" y1="350.6" x2="61.1" y2="350.6" stroke="#231f20" stroke-width="1.6"/>
<line x1="298.5" y1="350.6" x2="304.5" y2="350.6" stroke="#231f20" stroke-width="1.6"/>
<line x1="377.8" y1="350.6" x2="383.8" y2="350.6" stroke="#231f20" stroke-width="1.6"/>
<line x1="621.2" y1="350.6" x2="627.2" y2="350.6" stroke="#231f20" stroke-width="1.6"/>
<text x="653.0" y="354.6" font-size="11.5" font-weight="bold" text-anchor="end" fill="#231f20" letter-spacing="0.3">0.4</text>
<text x="50.3" y="390.1" font-size="11.5" font-weight="bold" text-anchor="end" fill="#231f20" letter-spacing="0.3">0.2</text>
<line x1="55.1" y1="386.1" x2="61.1" y2="386.1" stroke="#231f20" stroke-width="1.6"/>
<line x1="298.5" y1="386.1" x2="304.5" y2="386.1" stroke="#231f20" stroke-width="1.6"/>
<line x1="377.8" y1="386.1" x2="383.8" y2="386.1" stroke="#231f20" stroke-width="1.6"/>
<line x1="621.2" y1="386.1" x2="627.2" y2="386.1" stroke="#231f20" stroke-width="1.6"/>
<text x="653.0" y="390.1" font-size="11.5" font-weight="bold" text-anchor="end" fill="#231f20" letter-spacing="0.3">0.2</text>
<text x="50.3" y="425.7" font-size="11.5" font-weight="bold" text-anchor="end" fill="#231f20" letter-spacing="0.3">0.0</text>
<line x1="55.1" y1="421.7" x2="61.1" y2="421.7" stroke="#231f20" stroke-width="1.6"/>
<line x1="298.5" y1="421.7" x2="304.5" y2="421.7" stroke="#231f20" stroke-width="1.6"/>
<line x1="377.8" y1="421.7" x2="383.8" y2="421.7" stroke="#231f20" stroke-width="1.6"/>
<line x1="621.2" y1="421.7" x2="627.2" y2="421.7" stroke="#231f20" stroke-width="1.6"/>
<text x="653.0" y="425.7" font-size="11.5" font-weight="bold" text-anchor="end" fill="#231f20" letter-spacing="0.3">0.0</text>
<text x="50.3" y="461.2" font-size="11.5" font-weight="bold" text-anchor="end" fill="#231f20" letter-spacing="0.3">-0.2</text>
<line x1="55.1" y1="457.2" x2="61.1" y2="457.2" stroke="#231f20" stroke-width="1.6"/>
<line x1="298.5" y1="457.2" x2="304.5" y2="457.2" stroke="#231f20" stroke-width="1.6"/>
<line x1="377.8" y1="457.2" x2="383.8" y2="457.2" stroke="#231f20" stroke-width="1.6"/>
<line x1="621.2" y1="457.2" x2="627.2" y2="457.2" stroke="#231f20" stroke-width="1.6"/>
<text x="653.0" y="461.2" font-size="11.5" font-weight="bold" text-anchor="end" fill="#231f20" letter-spacing="0.3">-0.2</text>
<text x="50.3" y="496.8" font-size="11.5" font-weight="bold" text-anchor="end" fill="#231f20" letter-spacing="0.3">-0.4</text>
<line x1="55.1" y1="492.8" x2="61.1" y2="492.8" stroke="#231f20" stroke-width="1.6"/>
<line x1="298.5" y1="492.8" x2="304.5" y2="492.8" stroke="#231f20" stroke-width="1.6"/>
<line x1="377.8" y1="492.8" x2="383.8" y2="492.8" stroke="#231f20" stroke-width="1.6"/>
<line x1="621.2" y1="492.8" x2="627.2" y2="492.8" stroke="#231f20" stroke-width="1.6"/>
<text x="653.0" y="496.8" font-size="11.5" font-weight="bold" text-anchor="end" fill="#231f20" letter-spacing="0.3">-0.4</text>
<text x="50.3" y="532.4" font-size="11.5" font-weight="bold" text-anchor="end" fill="#231f20" letter-spacing="0.3">-0.6</text>
<text transform="translate(16.3,154.0) rotate(-90)" font-size="15" font-weight="bold" text-anchor="middle" letter-spacing="0.62" fill="#231f20">&#948;<tspan font-size="10" dy="-6">18</tspan><tspan dy="6">O (&#8240;, VPDB)</tspan></text>
<text transform="translate(16.3,404.2) rotate(-90)" font-size="15" font-weight="bold" text-anchor="middle" letter-spacing="0.62" fill="#231f20">&#948;<tspan font-size="10" dy="-6">13</tspan><tspan dy="6">C (&#8240;, VPDB)</tspan></text>
<text transform="translate(680.6,154.0) rotate(-90)" font-size="15" font-weight="bold" text-anchor="middle" letter-spacing="0.62" fill="#231f20">&#948;<tspan font-size="10" dy="-6">18</tspan><tspan dy="6">O (&#8240;, VPDB)</tspan></text>
<text transform="translate(680.6,404.2) rotate(-90)" font-size="15" font-weight="bold" text-anchor="middle" letter-spacing="0.62" fill="#231f20">&#948;<tspan font-size="10" dy="-6">13</tspan><tspan dy="6">C (&#8240;, VPDB)</tspan></text>
<text transform="translate(344.8,154.2) rotate(-90)" font-size="13" font-weight="bold" text-anchor="middle" fill="#231f20">SST (&#176;C)</text>
<text x="23.6" y="29.6" font-size="17.0" font-weight="bold" text-anchor="start" fill="#231f20" letter-spacing="0.7">(a)</text>
<text x="23.6" y="292.4" font-size="17.0" font-weight="bold" text-anchor="start" fill="#231f20" letter-spacing="0.7">(b)</text>
<text x="340.4" y="29.6" font-size="17.0" font-weight="bold" text-anchor="start" fill="#231f20" letter-spacing="0.5">(c)</text>
<text x="338.9" y="292.4" font-size="17.0" font-weight="bold" text-anchor="start" fill="#231f20" letter-spacing="0.7">(d)</text>
<text x="64.3" y="53.0" font-size="14" fill="#45b3e4">r</text><text x="68.9" y="58.0" font-size="8" fill="#45b3e4">sl</text><text x="74.0" y="53.0" font-size="14" fill="#45b3e4">=</text><text x="86.9" y="53.0" font-size="14" fill="#45b3e4">0.86</text>
<text x="391.6" y="53.5" font-size="14" fill="#bdbdbd">r</text><text x="397.6" y="53.5" font-size="14" fill="#bdbdbd">=</text><text x="411.6" y="53.5" font-size="14" fill="#bdbdbd">0.96</text>
<text x="250.5" y="268.9" font-size="14" fill="#d9474a">r</text><text x="254.6" y="273.9" font-size="8" fill="#d9474a">ss</text><text x="262.9" y="268.9" font-size="14" fill="#d9474a">=</text><text x="275.3" y="268.9" font-size="14" fill="#d9474a">0.92</text>
<path d="M62.6,193.4V206.2M58.9,193.4H66.3M58.9,206.2H66.3" stroke="#3a3a3a" stroke-width="1.1" fill="none"/>
<path d="M64.6,169.7V182.5M60.9,169.7H68.3M60.9,182.5H68.3" stroke="#3a3a3a" stroke-width="1.1" fill="none"/>
<path d="M66.3,164.5V177.3M62.6,164.5H70.0M62.6,177.3H70.0" stroke="#3a3a3a" stroke-width="1.1" fill="none"/>
<path d="M135.2,231.8V244.6M131.5,231.8H138.9M131.5,244.6H138.9" stroke="#3a3a3a" stroke-width="1.1" fill="none"/>
<path d="M135.7,195.8V208.6M132.0,195.8H139.4M132.0,208.6H139.4" stroke="#3a3a3a" stroke-width="1.1" fill="none"/>
<path d="M148.1,136.7V149.5M144.4,136.7H151.8M144.4,149.5H151.8" stroke="#3a3a3a" stroke-width="1.1" fill="none"/>
<path d="M153.5,106.4V119.2M149.8,106.4H157.2M149.8,119.2H157.2" stroke="#3a3a3a" stroke-width="1.1" fill="none"/>
<path d="M176.0,176.7V189.5M172.3,176.7H179.7M172.3,189.5H179.7" stroke="#3a3a3a" stroke-width="1.1" fill="none"/>
<path d="M223.4,117.9V130.7M219.7,117.9H227.1M219.7,130.7H227.1" stroke="#3a3a3a" stroke-width="1.1" fill="none"/>
<path d="M228.7,117.0V129.8M225.0,117.0H232.4M225.0,129.8H232.4" stroke="#3a3a3a" stroke-width="1.1" fill="none"/>
<path d="M234.0,111.3V124.1M230.3,111.3H237.7M230.3,124.1H237.7" stroke="#3a3a3a" stroke-width="1.1" fill="none"/>
<path d="M272.6,110.1V122.9M268.9,110.1H276.3M268.9,122.9H276.3" stroke="#3a3a3a" stroke-width="1.1" fill="none"/>
<path d="M280.2,98.2V111.0M276.5,98.2H283.9M276.5,111.0H283.9" stroke="#3a3a3a" stroke-width="1.1" fill="none"/>
<path d="M284.3,89.2V102.0M280.6,89.2H288.0M280.6,102.0H288.0" stroke="#3a3a3a" stroke-width="1.1" fill="none"/>
<path d="M66.1,153.4V166.2M62.4,153.4H69.8M62.4,166.2H69.8" stroke="#3a3a3a" stroke-width="1.1" fill="none"/>
<path d="M65.4,177.5V190.3M61.7,177.5H69.1M61.7,190.3H69.1" stroke="#3a3a3a" stroke-width="1.1" fill="none"/>
<path d="M62.2,180.5V193.3M58.5,180.5H65.9M58.5,193.3H65.9" stroke="#3a3a3a" stroke-width="1.1" fill="none"/>
<path d="M137.2,185.7V198.5M133.5,185.7H140.9M133.5,198.5H140.9" stroke="#3a3a3a" stroke-width="1.1" fill="none"/>
<path d="M140.2,196.3V209.1M136.5,196.3H143.9M136.5,209.1H143.9" stroke="#3a3a3a" stroke-width="1.1" fill="none"/>
<path d="M136.1,209.6V222.4M132.4,209.6H139.8M132.4,222.4H139.8" stroke="#3a3a3a" stroke-width="1.1" fill="none"/>
<path d="M135.2,235.8V248.6M131.5,235.8H138.9M131.5,248.6H138.9" stroke="#3a3a3a" stroke-width="1.1" fill="none"/>
<path d="M148.1,107.7V120.5M144.4,107.7H151.8M144.4,120.5H151.8" stroke="#3a3a3a" stroke-width="1.1" fill="none"/>
<path d="M153.1,78.6V91.4M149.4,78.6H156.8M149.4,91.4H156.8" stroke="#3a3a3a" stroke-width="1.1" fill="none"/>
<path d="M176.0,194.8V207.6M172.3,194.8H179.7M172.3,207.6H179.7" stroke="#3a3a3a" stroke-width="1.1" fill="none"/>
<path d="M223.8,77.3V90.1M220.1,77.3H227.5M220.1,90.1H227.5" stroke="#3a3a3a" stroke-width="1.1" fill="none"/>
<path d="M228.5,106.8V119.6M224.8,106.8H232.2M224.8,119.6H232.2" stroke="#3a3a3a" stroke-width="1.1" fill="none"/>
<path d="M233.9,139.5V152.3M230.2,139.5H237.6M230.2,152.3H237.6" stroke="#3a3a3a" stroke-width="1.1" fill="none"/>
<path d="M279.4,79.5V92.3M275.7,79.5H283.1M275.7,92.3H283.1" stroke="#3a3a3a" stroke-width="1.1" fill="none"/>
<path d="M283.9,85.5V98.3M280.2,85.5H287.6M280.2,98.3H287.6" stroke="#3a3a3a" stroke-width="1.1" fill="none"/>
<path d="M272.4,96.0V108.8M268.7,96.0H276.1M268.7,108.8H276.1" stroke="#3a3a3a" stroke-width="1.1" fill="none"/>
<path d="M273.9,99.7V112.5M270.2,99.7H277.6M270.2,112.5H277.6" stroke="#3a3a3a" stroke-width="1.1" fill="none"/>
<circle cx="62.6" cy="199.8" r="3.5" fill="#1ea8e2" stroke="#0f3550" stroke-width="0.9"/>
<circle cx="64.6" cy="176.1" r="3.5" fill="#1ea8e2" stroke="#0f3550" stroke-width="0.9"/>
<circle cx="66.3" cy="170.9" r="3.5" fill="#1ea8e2" stroke="#0f3550" stroke-width="0.9"/>
<circle cx="135.2" cy="238.2" r="3.5" fill="#1ea8e2" stroke="#0f3550" stroke-width="0.9"/>
<circle cx="135.7" cy="202.2" r="3.5" fill="#1ea8e2" stroke="#0f3550" stroke-width="0.9"/>
<circle cx="148.1" cy="143.1" r="3.5" fill="#1ea8e2" stroke="#0f3550" stroke-width="0.9"/>
<circle cx="153.5" cy="112.8" r="3.5" fill="#1ea8e2" stroke="#0f3550" stroke-width="0.9"/>
<circle cx="176.0" cy="183.1" r="3.5" fill="#1ea8e2" stroke="#0f3550" stroke-width="0.9"/>
<circle cx="223.4" cy="124.3" r="3.5" fill="#1ea8e2" stroke="#0f3550" stroke-width="0.9"/>
<circle cx="228.7" cy="123.4" r="3.5" fill="#1ea8e2" stroke="#0f3550" stroke-width="0.9"/>
<circle cx="234.0" cy="117.7" r="3.5" fill="#1ea8e2" stroke="#0f3550" stroke-width="0.9"/>
<circle cx="272.6" cy="116.5" r="3.5" fill="#1ea8e2" stroke="#0f3550" stroke-width="0.9"/>
<circle cx="280.2" cy="104.6" r="3.5" fill="#1ea8e2" stroke="#0f3550" stroke-width="0.9"/>
<circle cx="284.3" cy="95.6" r="3.5" fill="#1ea8e2" stroke="#0f3550" stroke-width="0.9"/>
<circle cx="66.1" cy="159.8" r="3.5" fill="#e2202a" stroke="#5a1212" stroke-width="0.9"/>
<circle cx="65.4" cy="183.9" r="3.5" fill="#e2202a" stroke="#5a1212" stroke-width="0.9"/>
<circle cx="62.2" cy="186.9" r="3.5" fill="#e2202a" stroke="#5a1212" stroke-width="0.9"/>
<circle cx="137.2" cy="192.1" r="3.5" fill="#e2202a" stroke="#5a1212" stroke-width="0.9"/>
<circle cx="140.2" cy="202.7" r="3.5" fill="#e2202a" stroke="#5a1212" stroke-width="0.9"/>
<circle cx="136.1" cy="216.0" r="3.5" fill="#e2202a" stroke="#5a1212" stroke-width="0.9"/>
<circle cx="135.2" cy="242.2" r="3.5" fill="#e2202a" stroke="#5a1212" stroke-width="0.9"/>
<circle cx="148.1" cy="114.1" r="3.5" fill="#e2202a" stroke="#5a1212" stroke-width="0.9"/>
<circle cx="153.1" cy="85.0" r="3.5" fill="#e2202a" stroke="#5a1212" stroke-width="0.9"/>
<circle cx="176.0" cy="201.2" r="3.5" fill="#e2202a" stroke="#5a1212" stroke-width="0.9"/>
<circle cx="223.8" cy="83.7" r="3.5" fill="#e2202a" stroke="#5a1212" stroke-width="0.9"/>
<circle cx="228.5" cy="113.2" r="3.5" fill="#e2202a" stroke="#5a1212" stroke-width="0.9"/>
<circle cx="233.9" cy="145.9" r="3.5" fill="#e2202a" stroke="#5a1212" stroke-width="0.9"/>
<circle cx="279.4" cy="85.9" r="3.5" fill="#e2202a" stroke="#5a1212" stroke-width="0.9"/>
<circle cx="283.9" cy="91.9" r="3.5" fill="#e2202a" stroke="#5a1212" stroke-width="0.9"/>
<circle cx="272.4" cy="102.4" r="3.5" fill="#e2202a" stroke="#5a1212" stroke-width="0.9"/>
<circle cx="273.9" cy="106.1" r="3.5" fill="#e2202a" stroke="#5a1212" stroke-width="0.9"/>
<path d="M65.0,370.5V391.9M61.3,370.5H68.7M61.3,391.9H68.7" stroke="#3a3a3a" stroke-width="1.1" fill="none"/>
<path d="M62.8,392.1V413.5M59.1,392.1H66.5M59.1,413.5H66.5" stroke="#3a3a3a" stroke-width="1.1" fill="none"/>
<path d="M66.3,408.4V429.8M62.6,408.4H70.0M62.6,429.8H70.0" stroke="#3a3a3a" stroke-width="1.1" fill="none"/>
<path d="M153.1,401.5V422.9M149.4,401.5H156.8M149.4,422.9H156.8" stroke="#3a3a3a" stroke-width="1.1" fill="none"/>
<path d="M148.1,412.7V434.1M144.4,412.7H151.8M144.4,434.1H151.8" stroke="#3a3a3a" stroke-width="1.1" fill="none"/>
<path d="M140.2,447.7V469.1M136.5,447.7H143.9M136.5,469.1H143.9" stroke="#3a3a3a" stroke-width="1.1" fill="none"/>
<path d="M134.9,455.2V476.6M131.2,455.2H138.6M131.2,476.6H138.6" stroke="#3a3a3a" stroke-width="1.1" fill="none"/>
<path d="M136.2,460.0V481.4M132.5,460.0H139.9M132.5,481.4H139.9" stroke="#3a3a3a" stroke-width="1.1" fill="none"/>
<path d="M137.5,472.8V494.2M133.8,472.8H141.2M133.8,494.2H141.2" stroke="#3a3a3a" stroke-width="1.1" fill="none"/>
<path d="M176.0,473.4V494.8M172.3,473.4H179.7M172.3,494.8H179.7" stroke="#3a3a3a" stroke-width="1.1" fill="none"/>
<path d="M223.7,433.9V455.3M220.0,433.9H227.4M220.0,455.3H227.4" stroke="#3a3a3a" stroke-width="1.1" fill="none"/>
<path d="M234.1,457.3V478.7M230.4,457.3H237.8M230.4,478.7H237.8" stroke="#3a3a3a" stroke-width="1.1" fill="none"/>
<path d="M228.4,462.4V483.8M224.7,462.4H232.1M224.7,483.8H232.1" stroke="#3a3a3a" stroke-width="1.1" fill="none"/>
<path d="M272.5,350.2V371.6M268.8,350.2H276.2M268.8,371.6H276.2" stroke="#3a3a3a" stroke-width="1.1" fill="none"/>
<path d="M273.8,434.1V455.5M270.1,434.1H277.5M270.1,455.5H277.5" stroke="#3a3a3a" stroke-width="1.1" fill="none"/>
<path d="M284.2,441.8V463.2M280.5,441.8H287.9M280.5,463.2H287.9" stroke="#3a3a3a" stroke-width="1.1" fill="none"/>
<path d="M279.8,472.4V493.8M276.1,472.4H283.5M276.1,493.8H283.5" stroke="#3a3a3a" stroke-width="1.1" fill="none"/>
<path d="M62.4,377.1V398.5M58.7,377.1H66.1M58.7,398.5H66.1" stroke="#3a3a3a" stroke-width="1.1" fill="none"/>
<path d="M65.4,381.1V402.5M61.7,381.1H69.1M61.7,402.5H69.1" stroke="#3a3a3a" stroke-width="1.1" fill="none"/>
<path d="M66.3,404.0V425.4M62.6,404.0H70.0M62.6,425.4H70.0" stroke="#3a3a3a" stroke-width="1.1" fill="none"/>
<path d="M148.1,390.5V411.9M144.4,390.5H151.8M144.4,411.9H151.8" stroke="#3a3a3a" stroke-width="1.1" fill="none"/>
<path d="M135.1,419.0V440.4M131.4,419.0H138.8M131.4,440.4H138.8" stroke="#3a3a3a" stroke-width="1.1" fill="none"/>
<path d="M140.2,426.1V447.5M136.5,426.1H143.9M136.5,447.5H143.9" stroke="#3a3a3a" stroke-width="1.1" fill="none"/>
<path d="M136.2,433.6V455.0M132.5,433.6H139.9M132.5,455.0H139.9" stroke="#3a3a3a" stroke-width="1.1" fill="none"/>
<path d="M153.1,452.4V473.8M149.4,452.4H156.8M149.4,473.8H156.8" stroke="#3a3a3a" stroke-width="1.1" fill="none"/>
<path d="M176.0,444.1V465.5M172.3,444.1H179.7M172.3,465.5H179.7" stroke="#3a3a3a" stroke-width="1.1" fill="none"/>
<path d="M228.4,390.1V411.5M224.7,390.1H232.1M224.7,411.5H232.1" stroke="#3a3a3a" stroke-width="1.1" fill="none"/>
<path d="M223.7,410.2V431.6M220.0,410.2H227.4M220.0,431.6H227.4" stroke="#3a3a3a" stroke-width="1.1" fill="none"/>
<path d="M233.9,414.2V435.6M230.2,414.2H237.6M230.2,435.6H237.6" stroke="#3a3a3a" stroke-width="1.1" fill="none"/>
<path d="M272.5,313.3V334.7M268.8,313.3H276.2M268.8,334.7H276.2" stroke="#3a3a3a" stroke-width="1.1" fill="none"/>
<path d="M273.4,385.6V407.0M269.7,385.6H277.1M269.7,407.0H277.1" stroke="#3a3a3a" stroke-width="1.1" fill="none"/>
<path d="M280.0,386.2V407.6M276.3,386.2H283.7M276.3,407.6H283.7" stroke="#3a3a3a" stroke-width="1.1" fill="none"/>
<path d="M284.4,469.5V490.9M280.7,469.5H288.1M280.7,490.9H288.1" stroke="#3a3a3a" stroke-width="1.1" fill="none"/>
<circle cx="62.4" cy="387.8" r="3.5" fill="#e2202a" stroke="#5a1212" stroke-width="0.9"/>
<circle cx="65.4" cy="391.8" r="3.5" fill="#e2202a" stroke="#5a1212" stroke-width="0.9"/>
<circle cx="66.3" cy="414.7" r="3.5" fill="#e2202a" stroke="#5a1212" stroke-width="0.9"/>
<circle cx="148.1" cy="401.2" r="3.5" fill="#e2202a" stroke="#5a1212" stroke-width="0.9"/>
<circle cx="135.1" cy="429.7" r="3.5" fill="#e2202a" stroke="#5a1212" stroke-width="0.9"/>
<circle cx="140.2" cy="436.8" r="3.5" fill="#e2202a" stroke="#5a1212" stroke-width="0.9"/>
<circle cx="136.2" cy="444.3" r="3.5" fill="#e2202a" stroke="#5a1212" stroke-width="0.9"/>
<circle cx="153.1" cy="463.1" r="3.5" fill="#e2202a" stroke="#5a1212" stroke-width="0.9"/>
<circle cx="176.0" cy="454.8" r="3.5" fill="#e2202a" stroke="#5a1212" stroke-width="0.9"/>
<circle cx="228.4" cy="400.8" r="3.5" fill="#e2202a" stroke="#5a1212" stroke-width="0.9"/>
<circle cx="223.7" cy="420.9" r="3.5" fill="#e2202a" stroke="#5a1212" stroke-width="0.9"/>
<circle cx="233.9" cy="424.9" r="3.5" fill="#e2202a" stroke="#5a1212" stroke-width="0.9"/>
<circle cx="272.5" cy="324.0" r="3.5" fill="#e2202a" stroke="#5a1212" stroke-width="0.9"/>
<circle cx="273.4" cy="396.3" r="3.5" fill="#e2202a" stroke="#5a1212" stroke-width="0.9"/>
<circle cx="280.0" cy="396.9" r="3.5" fill="#e2202a" stroke="#5a1212" stroke-width="0.9"/>
<circle cx="284.4" cy="480.2" r="3.5" fill="#e2202a" stroke="#5a1212" stroke-width="0.9"/>
<circle cx="65.0" cy="381.2" r="3.5" fill="#1ea8e2" stroke="#0f3550" stroke-width="0.9"/>
<circle cx="62.8" cy="402.8" r="3.5" fill="#1ea8e2" stroke="#0f3550" stroke-width="0.9"/>
<circle cx="66.3" cy="419.1" r="3.5" fill="#1ea8e2" stroke="#0f3550" stroke-width="0.9"/>
<circle cx="153.1" cy="412.2" r="3.5" fill="#1ea8e2" stroke="#0f3550" stroke-width="0.9"/>
<circle cx="148.1" cy="423.4" r="3.5" fill="#1ea8e2" stroke="#0f3550" stroke-width="0.9"/>
<circle cx="140.2" cy="458.4" r="3.5" fill="#1ea8e2" stroke="#0f3550" stroke-width="0.9"/>
<circle cx="134.9" cy="465.9" r="3.5" fill="#1ea8e2" stroke="#0f3550" stroke-width="0.9"/>
<circle cx="136.2" cy="470.7" r="3.5" fill="#1ea8e2" stroke="#0f3550" stroke-width="0.9"/>
<circle cx="137.5" cy="483.5" r="3.5" fill="#1ea8e2" stroke="#0f3550" stroke-width="0.9"/>
<circle cx="176.0" cy="484.1" r="3.5" fill="#1ea8e2" stroke="#0f3550" stroke-width="0.9"/>
<circle cx="223.7" cy="444.6" r="3.5" fill="#1ea8e2" stroke="#0f3550" stroke-width="0.9"/>
<circle cx="234.1" cy="468.0" r="3.5" fill="#1ea8e2" stroke="#0f3550" stroke-width="0.9"/>
<circle cx="228.4" cy="473.1" r="3.5" fill="#1ea8e2" stroke="#0f3550" stroke-width="0.9"/>
<circle cx="272.5" cy="360.9" r="3.5" fill="#1ea8e2" stroke="#0f3550" stroke-width="0.9"/>
<circle cx="273.8" cy="444.8" r="3.5" fill="#1ea8e2" stroke="#0f3550" stroke-width="0.9"/>
<circle cx="284.2" cy="452.5" r="3.5" fill="#1ea8e2" stroke="#0f3550" stroke-width="0.9"/>
<circle cx="279.8" cy="483.1" r="3.5" fill="#1ea8e2" stroke="#0f3550" stroke-width="0.9"/>
<path d="M388.4,159.4V172.6M384.7,159.4H392.1M384.7,172.6H392.1" stroke="#3a3a3a" stroke-width="1.1" fill="none"/>
<path d="M388.4,164.4V177.6M384.7,164.4H392.1M384.7,177.6H392.1" stroke="#3a3a3a" stroke-width="1.1" fill="none"/>
<path d="M459.8,195.2V208.4M456.1,195.2H463.5M456.1,208.4H463.5" stroke="#3a3a3a" stroke-width="1.1" fill="none"/>
<path d="M459.8,209.7V222.9M456.1,209.7H463.5M456.1,222.9H463.5" stroke="#3a3a3a" stroke-width="1.1" fill="none"/>
<path d="M512.2,221.0V234.2M508.5,221.0H515.9M508.5,234.2H515.9" stroke="#3a3a3a" stroke-width="1.1" fill="none"/>
<path d="M512.2,225.4V238.6M508.5,225.4H515.9M508.5,238.6H515.9" stroke="#3a3a3a" stroke-width="1.1" fill="none"/>
<path d="M524.2,158.4V171.6M520.5,158.4H527.9M520.5,171.6H527.9" stroke="#3a3a3a" stroke-width="1.1" fill="none"/>
<path d="M524.2,162.9V176.1M520.5,162.9H527.9M520.5,176.1H527.9" stroke="#3a3a3a" stroke-width="1.1" fill="none"/>
<path d="M542.5,52.6V65.8M538.8,52.6H546.2M538.8,65.8H546.2" stroke="#3a3a3a" stroke-width="1.1" fill="none"/>
<path d="M542.5,75.3V88.5M538.8,75.3H546.2M538.8,88.5H546.2" stroke="#3a3a3a" stroke-width="1.1" fill="none"/>
<path d="M559.3,161.8V175.0M555.6,161.8H563.0M555.6,175.0H563.0" stroke="#3a3a3a" stroke-width="1.1" fill="none"/>
<path d="M559.3,167.8V181.0M555.6,167.8H563.0M555.6,181.0H563.0" stroke="#3a3a3a" stroke-width="1.1" fill="none"/>
<path d="M582.3,162.7V175.9M578.6,162.7H586.0M578.6,175.9H586.0" stroke="#3a3a3a" stroke-width="1.1" fill="none"/>
<path d="M582.3,174.4V187.6M578.6,174.4H586.0M578.6,187.6H586.0" stroke="#3a3a3a" stroke-width="1.1" fill="none"/>
<path d="M587.2,137.1V150.3M583.5,137.1H590.9M583.5,150.3H590.9" stroke="#3a3a3a" stroke-width="1.1" fill="none"/>
<path d="M609.4,65.7V78.9M605.7,65.7H613.1M605.7,78.9H613.1" stroke="#3a3a3a" stroke-width="1.1" fill="none"/>
<path d="M609.4,70.9V84.1M605.7,70.9H613.1M605.7,84.1H613.1" stroke="#3a3a3a" stroke-width="1.1" fill="none"/>
<path d="M621.1,145.1V158.3M617.4,145.1H624.8M617.4,158.3H624.8" stroke="#3a3a3a" stroke-width="1.1" fill="none"/>
<path d="M621.1,162.0V175.2M617.4,162.0H624.8M617.4,175.2H624.8" stroke="#3a3a3a" stroke-width="1.1" fill="none"/>
<rect x="385.2" y="162.8" width="6.4" height="6.4" fill="#c9c9c9" stroke="#3c3c3c" stroke-width="1"/>
<rect x="385.2" y="167.8" width="6.4" height="6.4" fill="#c9c9c9" stroke="#3c3c3c" stroke-width="1"/>
<rect x="456.6" y="198.6" width="6.4" height="6.4" fill="#c9c9c9" stroke="#3c3c3c" stroke-width="1"/>
<rect x="456.6" y="213.1" width="6.4" height="6.4" fill="#c9c9c9" stroke="#3c3c3c" stroke-width="1"/>
<rect x="509.0" y="224.4" width="6.4" height="6.4" fill="#c9c9c9" stroke="#3c3c3c" stroke-width="1"/>
<rect x="509.0" y="228.8" width="6.4" height="6.4" fill="#c9c9c9" stroke="#3c3c3c" stroke-width="1"/>
<rect x="521.0" y="161.8" width="6.4" height="6.4" fill="#c9c9c9" stroke="#3c3c3c" stroke-width="1"/>
<rect x="521.0" y="166.3" width="6.4" height="6.4" fill="#c9c9c9" stroke="#3c3c3c" stroke-width="1"/>
<rect x="539.3" y="56.0" width="6.4" height="6.4" fill="#c9c9c9" stroke="#3c3c3c" stroke-width="1"/>
<rect x="539.3" y="78.7" width="6.4" height="6.4" fill="#c9c9c9" stroke="#3c3c3c" stroke-width="1"/>
<rect x="556.1" y="165.2" width="6.4" height="6.4" fill="#c9c9c9" stroke="#3c3c3c" stroke-width="1"/>
<rect x="556.1" y="171.2" width="6.4" height="6.4" fill="#c9c9c9" stroke="#3c3c3c" stroke-width="1"/>
<rect x="579.1" y="166.1" width="6.4" height="6.4" fill="#c9c9c9" stroke="#3c3c3c" stroke-width="1"/>
<rect x="579.1" y="177.8" width="6.4" height="6.4" fill="#c9c9c9" stroke="#3c3c3c" stroke-width="1"/>
<rect x="584.0" y="140.5" width="6.4" height="6.4" fill="#c9c9c9" stroke="#3c3c3c" stroke-width="1"/>
<rect x="606.2" y="69.1" width="6.4" height="6.4" fill="#c9c9c9" stroke="#3c3c3c" stroke-width="1"/>
<rect x="606.2" y="74.3" width="6.4" height="6.4" fill="#c9c9c9" stroke="#3c3c3c" stroke-width="1"/>
<rect x="617.9" y="148.5" width="6.4" height="6.4" fill="#c9c9c9" stroke="#3c3c3c" stroke-width="1"/>
<rect x="617.9" y="165.4" width="6.4" height="6.4" fill="#c9c9c9" stroke="#3c3c3c" stroke-width="1"/>
<path d="M388.4,385.7V407.1M384.7,385.7H392.1M384.7,407.1H392.1" stroke="#3a3a3a" stroke-width="1.1" fill="none"/>
<path d="M388.4,420.8V442.2M384.7,420.8H392.1M384.7,442.2H392.1" stroke="#3a3a3a" stroke-width="1.1" fill="none"/>
<path d="M459.7,392.7V414.1M456.0,392.7H463.4M456.0,414.1H463.4" stroke="#3a3a3a" stroke-width="1.1" fill="none"/>
<path d="M459.7,455.6V477.0M456.0,455.6H463.4M456.0,477.0H463.4" stroke="#3a3a3a" stroke-width="1.1" fill="none"/>
<path d="M511.9,399.8V421.2M508.2,399.8H515.6M508.2,421.2H515.6" stroke="#3a3a3a" stroke-width="1.1" fill="none"/>
<path d="M511.9,452.5V473.9M508.2,452.5H515.6M508.2,473.9H515.6" stroke="#3a3a3a" stroke-width="1.1" fill="none"/>
<path d="M524.5,388.5V409.9M520.8,388.5H528.2M520.8,409.9H528.2" stroke="#3a3a3a" stroke-width="1.1" fill="none"/>
<path d="M524.5,425.6V447.0M520.8,425.6H528.2M520.8,447.0H528.2" stroke="#3a3a3a" stroke-width="1.1" fill="none"/>
<path d="M542.4,402.7V424.1M538.7,402.7H546.1M538.7,424.1H546.1" stroke="#3a3a3a" stroke-width="1.1" fill="none"/>
<path d="M542.4,413.3V434.7M538.7,413.3H546.1M538.7,434.7H546.1" stroke="#3a3a3a" stroke-width="1.1" fill="none"/>
<path d="M559.4,395.0V416.4M555.7,395.0H563.1M555.7,416.4H563.1" stroke="#3a3a3a" stroke-width="1.1" fill="none"/>
<path d="M559.4,409.2V430.6M555.7,409.2H563.1M555.7,430.6H563.1" stroke="#3a3a3a" stroke-width="1.1" fill="none"/>
<path d="M582.5,408.8V430.2M578.8,408.8H586.2M578.8,430.2H586.2" stroke="#3a3a3a" stroke-width="1.1" fill="none"/>
<path d="M582.5,410.8V432.2M578.8,410.8H586.2M578.8,432.2H586.2" stroke="#3a3a3a" stroke-width="1.1" fill="none"/>
<path d="M587.4,459.8V481.2M583.7,459.8H591.1M583.7,481.2H591.1" stroke="#3a3a3a" stroke-width="1.1" fill="none"/>
<path d="M609.9,413.1V434.5M606.2,413.1H613.6M606.2,434.5H613.6" stroke="#3a3a3a" stroke-width="1.1" fill="none"/>
<path d="M609.9,418.9V440.3M606.2,418.9H613.6M606.2,440.3H613.6" stroke="#3a3a3a" stroke-width="1.1" fill="none"/>
<path d="M620.9,414.6V436.0M617.2,414.6H624.6M617.2,436.0H624.6" stroke="#3a3a3a" stroke-width="1.1" fill="none"/>
<path d="M620.9,442.1V463.5M617.2,442.1H624.6M617.2,463.5H624.6" stroke="#3a3a3a" stroke-width="1.1" fill="none"/>
<rect x="385.2" y="393.2" width="6.4" height="6.4" fill="#c9c9c9" stroke="#3c3c3c" stroke-width="1"/>
<rect x="385.2" y="428.3" width="6.4" height="6.4" fill="#c9c9c9" stroke="#3c3c3c" stroke-width="1"/>
<rect x="456.5" y="400.2" width="6.4" height="6.4" fill="#c9c9c9" stroke="#3c3c3c" stroke-width="1"/>
<rect x="456.5" y="463.1" width="6.4" height="6.4" fill="#c9c9c9" stroke="#3c3c3c" stroke-width="1"/>
<rect x="508.7" y="407.3" width="6.4" height="6.4" fill="#c9c9c9" stroke="#3c3c3c" stroke-width="1"/>
<rect x="508.7" y="460.0" width="6.4" height="6.4" fill="#c9c9c9" stroke="#3c3c3c" stroke-width="1"/>
<rect x="521.3" y="396.0" width="6.4" height="6.4" fill="#c9c9c9" stroke="#3c3c3c" stroke-width="1"/>
<rect x="521.3" y="433.1" width="6.4" height="6.4" fill="#c9c9c9" stroke="#3c3c3c" stroke-width="1"/>
<rect x="539.2" y="410.2" width="6.4" height="6.4" fill="#c9c9c9" stroke="#3c3c3c" stroke-width="1"/>
<rect x="539.2" y="420.8" width="6.4" height="6.4" fill="#c9c9c9" stroke="#3c3c3c" stroke-width="1"/>
<rect x="556.2" y="402.5" width="6.4" height="6.4" fill="#c9c9c9" stroke="#3c3c3c" stroke-width="1"/>
<rect x="556.2" y="416.7" width="6.4" height="6.4" fill="#c9c9c9" stroke="#3c3c3c" stroke-width="1"/>
<rect x="579.3" y="416.3" width="6.4" height="6.4" fill="#c9c9c9" stroke="#3c3c3c" stroke-width="1"/>
<rect x="579.3" y="418.3" width="6.4" height="6.4" fill="#c9c9c9" stroke="#3c3c3c" stroke-width="1"/>
<rect x="584.2" y="467.3" width="6.4" height="6.4" fill="#c9c9c9" stroke="#3c3c3c" stroke-width="1"/>
<rect x="606.7" y="420.6" width="6.4" height="6.4" fill="#c9c9c9" stroke="#3c3c3c" stroke-width="1"/>
<rect x="606.7" y="426.4" width="6.4" height="6.4" fill="#c9c9c9" stroke="#3c3c3c" stroke-width="1"/>
<rect x="617.7" y="422.1" width="6.4" height="6.4" fill="#c9c9c9" stroke="#3c3c3c" stroke-width="1"/>
<rect x="617.7" y="449.6" width="6.4" height="6.4" fill="#c9c9c9" stroke="#3c3c3c" stroke-width="1"/>
<rect x="69.5" y="275.9" width="144.9" height="88.4" fill="#fff" stroke="#231f20" stroke-width="1.5"/>
<line x1="77.2" y1="292.4" x2="113.8" y2="292.4" stroke="#f3a55f" stroke-width="1.5"/>
<line x1="77.2" y1="310.9" x2="109.8" y2="310.9" stroke="#618290" stroke-width="1.5" stroke-dasharray="8.9,3"/>
<circle cx="95.4" cy="329.4" r="3.4" fill="#1ea8e2" stroke="#0f3550" stroke-width="0.9"/>
<circle cx="95.4" cy="347.9" r="3.4" fill="#e2202a" stroke="#5a1212" stroke-width="0.9"/>
<text x="122.3" y="296.6" font-size="12.0" font-weight="normal" text-anchor="start" fill="#464646" >HadISST</text>
<text x="122.3" y="315.5" font-size="12.0" font-weight="normal" text-anchor="start" fill="#464646" >Buoy SST</text>
<text x="122.3" y="333.9" font-size="12.0" font-weight="normal" text-anchor="start" fill="#464646" letter-spacing="0.2"><tspan font-style="italic">G. ruber</tspan> (W) sl</text>
<text x="122.3" y="352.4" font-size="12.0" font-weight="normal" text-anchor="start" fill="#464646" letter-spacing="0.2"><tspan font-style="italic">G. ruber</tspan> (W) ss</text>
<rect x="391.1" y="274.6" width="198.8" height="32.6" fill="#fff" stroke="#231f20" stroke-width="1.5"/>
<rect x="410.6" y="287.9" width="6.0" height="6.0" fill="#c9c9c9" stroke="#3c3c3c" stroke-width="1"/>
<text x="434.6" y="295.1" font-size="12.0" font-weight="normal" text-anchor="start" fill="#464646" letter-spacing="0.5">Intermediate <tspan font-style="italic">G. ruber</tspan> (W)</text>
</svg>
</body></html>
